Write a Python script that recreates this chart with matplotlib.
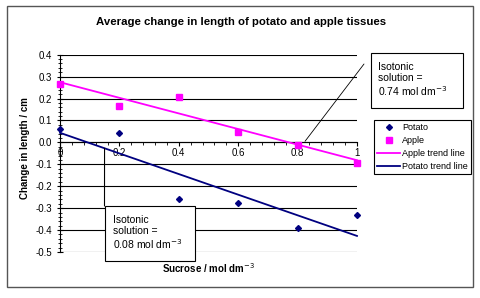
#!/usr/bin/env python3
"""
Average change in length of potato and apple tissues vs sucrose concentration.
"""

import numpy as np
import matplotlib.pyplot as plt
from matplotlib.patches import Rectangle
from matplotlib.ticker import MultipleLocator

plt.rcParams['font.family'] = ['Liberation Sans', 'DejaVu Sans']

# data
sucrose = [0.0, 0.2, 0.4, 0.6, 0.8, 1.0]
potato = [0.062, 0.043, -0.256, -0.275, -0.39, -0.333]
apple = [0.265, 0.167, 0.206, 0.047, -0.012, -0.094]
y_ticks = [0.4, 0.3, 0.2, 0.1, 0.0, -0.1, -0.2, -0.3, -0.4, -0.5]
x_ticks = [0, 0.2, 0.4, 0.6, 0.8, 1]
x_tick_labels = ['0', '0.2', '0.4', '0.6', '0.8', '1']

W, H = 480, 298


def px(x, y):
    """pixel position (from top left) -> figure fraction"""
    return x / W, 1 - y / H


def main():
    fig = plt.figure(figsize=(4.8, 2.98), dpi=100)
    ax = fig.add_axes([60 / W, 1 - 252 / H, 297 / W, 197.3 / H])

    # outer chart border
    fig.patches.append(Rectangle(px(7, 287), 466 / W, 281 / H, transform=fig.transFigure,
                                 fill=False, edgecolor='#555555', linewidth=1.0))

    x = np.array(sucrose)
    # trend lines (least squares)
    pa = np.polyfit(x, apple, 1)
    pp = np.polyfit(x, potato, 1)
    xl = np.array([0.0, 1.0])

    ax.plot(xl, np.polyval(pa, xl), color='#ff00ff', linewidth=1.3, label='Apple trend line',
            zorder=3, clip_on=False)
    ax.plot(xl, np.polyval(pp, xl), color='#000080', linewidth=1.3, label='Potato trend line',
            zorder=3, clip_on=False)
    ax.plot(sucrose, potato, linestyle='none', marker='D', markersize=3.0, color='#000080',
            label='Potato', zorder=4, clip_on=False)
    ax.plot(sucrose, apple, linestyle='none', marker='s', markersize=4, color='#ff00ff',
            label='Apple', zorder=4, clip_on=False)

    ax.set_xlim(0, 1)
    ax.set_ylim(-0.5, 0.4)
    ax.set_yticks(y_ticks)
    ax.set_yticklabels([f'{v:.1f}' for v in y_ticks])
    ax.set_xticks(x_ticks)
    ax.set_xticklabels(x_tick_labels)
    ax.yaxis.set_minor_locator(MultipleLocator(0.02))
    ax.xaxis.set_minor_locator(MultipleLocator(0.04))
    ax.grid(axis='y', color='black', linewidth=0.8)
    ax.set_axisbelow(True)

    for s in ['top', 'right']:
        ax.spines[s].set_visible(False)
    ax.spines['bottom'].set_position(('data', 0))
    ax.spines['left'].set_linewidth(0.8)
    ax.spines['bottom'].set_linewidth(0.8)
    ax.tick_params(axis='y', which='major', direction='inout', length=5, width=0.8,
                   labelsize=7, pad=3)
    ax.tick_params(axis='y', which='minor', direction='inout', length=3, width=0.6)
    ax.tick_params(axis='x', which='major', direction='out', length=3, width=0.8,
                   labelsize=7, pad=1)
    ax.tick_params(axis='x', which='minor', direction='out', length=2, width=0.6)

    fig.text(*px(241, 22), 'Average change in length of potato and apple tissues',
             ha='center', va='center', fontsize=8.2, fontweight='bold')
    fig.text(*px(25, 148), 'Change in length / cm', rotation=90,
             ha='center', va='center', fontsize=7, fontweight='bold')
    fig.text(*px(208, 268), 'Sucrose / mol dm$^{-3}$',
             ha='center', va='center', fontsize=7, fontweight='bold')

    # isotonic annotation boxes with their pointer lines
    ax.annotate('', xy=(0.825, 0.005), xycoords='data',
                xytext=px(364, 64), textcoords='figure fraction',
                arrowprops=dict(arrowstyle='-', color='black', linewidth=0.6,
                                shrinkA=0, shrinkB=0))
    ax.annotate('', xy=(0.15, np.polyval(pp, 0.15)), xycoords='data',
                xytext=px(104.5, 206), textcoords='figure fraction',
                arrowprops=dict(arrowstyle='-', color='black', linewidth=0.8,
                                shrinkA=0, shrinkB=0))

    fig.patches.append(Rectangle(px(370.7, 108.3), 92 / W, 55 / H, transform=fig.transFigure,
                                 facecolor='white', edgecolor='black', linewidth=0.8))
    fig.text(*px(378, 80), 'Isotonic\nsolution =\n0.74 mol dm$^{-3}$',
             ha='left', va='center', fontsize=7.5, linespacing=1.1)
    fig.patches.append(Rectangle(px(105, 261), 90 / W, 55 / H, transform=fig.transFigure,
                                 facecolor='white', edgecolor='black', linewidth=0.8,
                                 zorder=5))
    fig.text(*px(113, 233), 'Isotonic\nsolution =\n0.08 mol dm$^{-3}$',
             ha='left', va='center', fontsize=7.5, linespacing=1.1, zorder=6)

    handles, labels = ax.get_legend_handles_labels()
    order = [2, 3, 0, 1]
    leg = fig.legend([handles[i] for i in order], [labels[i] for i in order],
                     loc='upper left', bbox_to_anchor=px(374.3, 120),
                     fontsize=6.5, frameon=True, fancybox=False, framealpha=1,
                     edgecolor='black', borderpad=0.3, labelspacing=0.45,
                     handlelength=2.6, handletextpad=0.2, borderaxespad=0)
    leg.get_frame().set_linewidth(0.8)

    plt.savefig('out.png', dpi=100)


if __name__ == '__main__':
    main()
